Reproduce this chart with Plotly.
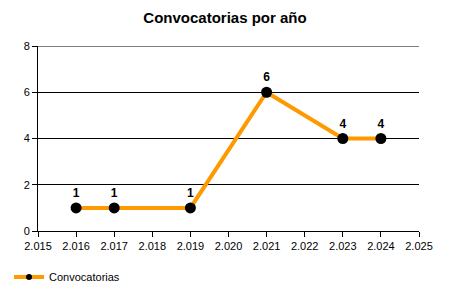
import plotly.graph_objects as go

years = [2016, 2017, 2019, 2021, 2023, 2024]
counts = [1, 1, 1, 6, 4, 4]
series_name = "Convocatorias"
title = "Convocatorias por año"
y_max = 8

L, R, T, B = 38, 30.5, 46, 69
W, H = 450, 300
pw, ph = W - L - R, H - T - B

fig = go.Figure()
fig.add_trace(go.Scatter(
    x=years, y=counts, name=series_name, showlegend=False,
    mode="lines+markers+text",
    line=dict(color="#FF9900", width=4),
    marker=dict(color="black", size=11),
    text=[f"<b>{v}</b>" for v in counts],
    textposition="top center",
    textfont=dict(family="Liberation Sans, Arial", size=12, color="black"),
    cliponaxis=False,
))
# legend entry with the small marker used in the reference legend
fig.add_trace(go.Scatter(
    x=[None], y=[None], name=series_name, showlegend=True,
    mode="lines+markers",
    line=dict(color="#FF9900", width=4),
    marker=dict(color="black", size=6),
))

# top gridline (plotly omits the grid line at the range edge)
fig.add_shape(type="line", xref="paper", x0=0, x1=1, yref="y",
              y0=y_max, y1=y_max, line=dict(color="black", width=1),
              layer="below")

fig.update_layout(
    width=W, height=H,
    margin=dict(l=L, r=R, t=T, b=B, pad=0, autoexpand=False),
    paper_bgcolor="white", plot_bgcolor="white",
    separators=",.",
    font=dict(family="Liberation Sans, Arial", size=11, color="black"),
    title=dict(text="<b>" + title + "</b>", x=0.5, xanchor="center",
               y=1 - 18 / H, yanchor="middle",
               font=dict(size=15, color="black")),
    showlegend=True,
    legend=dict(orientation="h", x=(9 - L) / pw, xanchor="left",
                y=(231 - 277) / ph, yanchor="middle",
                font=dict(size=11), bgcolor="rgba(0,0,0,0)",
                itemwidth=30),
    xaxis=dict(range=[2015, 2025], dtick=1, tick0=2015, tickformat=",d",
               showgrid=False, showline=True, linecolor="black", linewidth=1,
               ticks="outside", ticklen=5, tickcolor="black", zeroline=False,
               fixedrange=True),
    yaxis=dict(range=[0, y_max], tickvals=[0, 2, 4, 6, 8], showgrid=True,
               gridcolor="black", gridwidth=1, showline=True, linecolor="black",
               linewidth=1, ticks="outside", ticklen=5, tickcolor="black",
               zeroline=False, fixedrange=True),
)

fig.write_html("out.html")
